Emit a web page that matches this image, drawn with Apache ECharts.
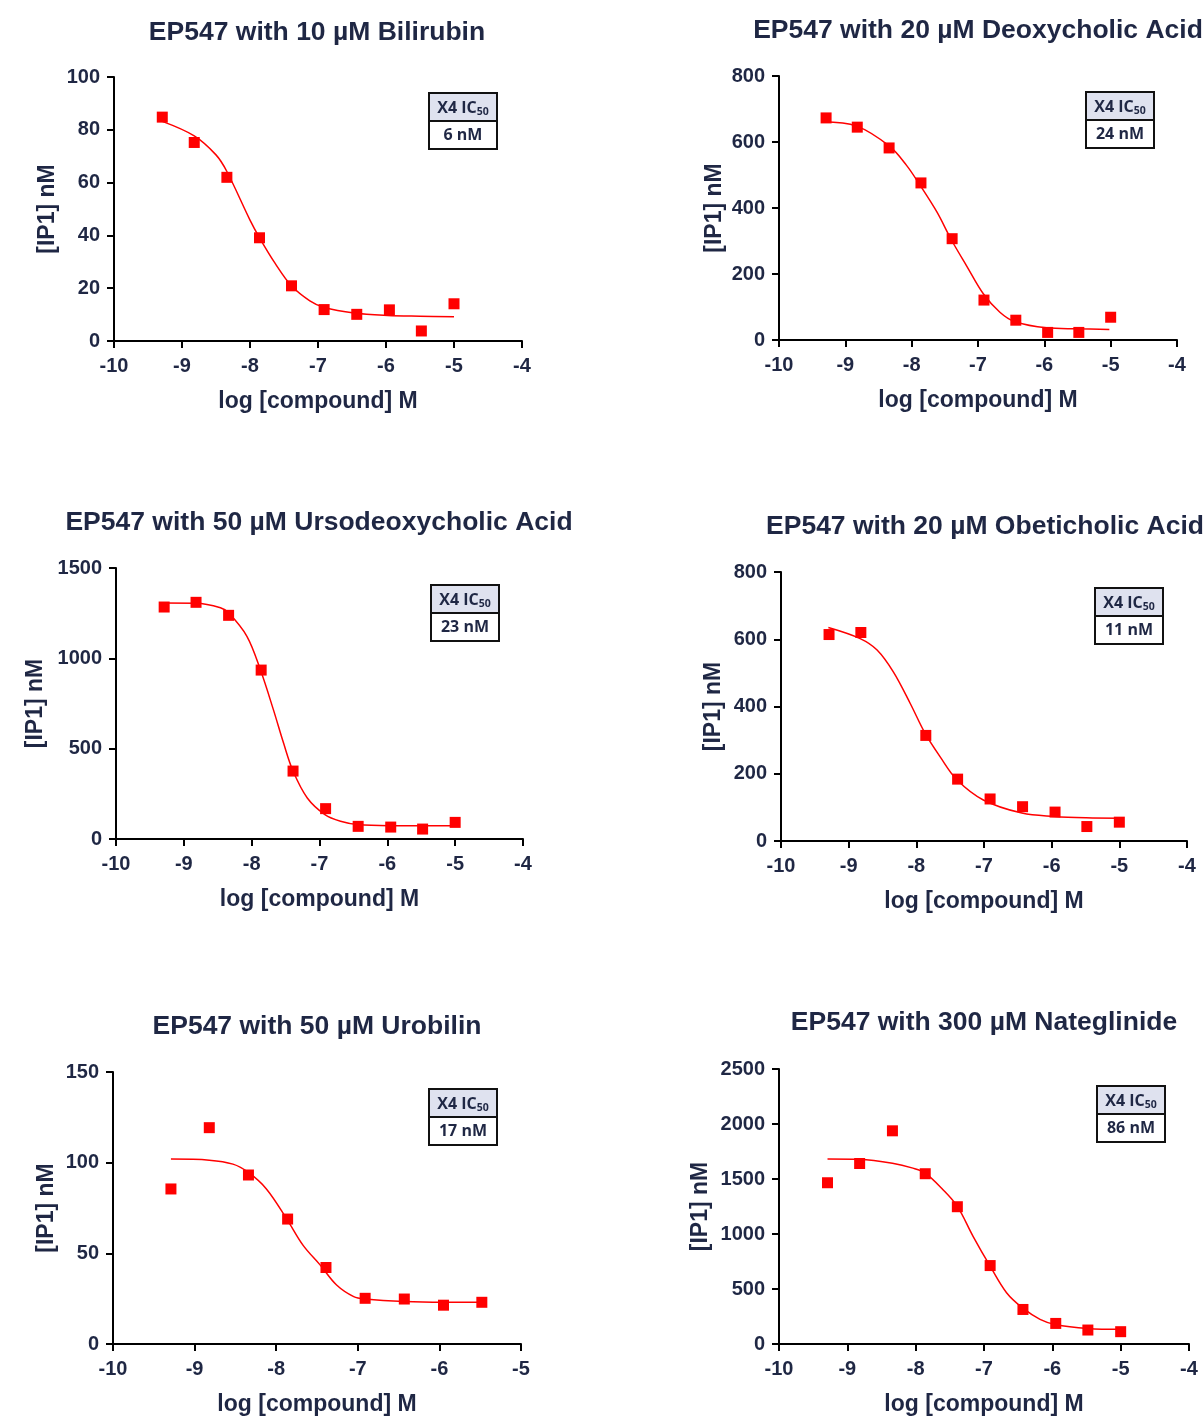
<!DOCTYPE html>
<html style="height: 100%">
    <head>
        <meta charset="utf-8">
    </head>
    <body style="height: 100%; margin: 0; background: #fff">
        <div id="container" style="width: 1203px; height: 1417px"></div>
        <script type="text/javascript" src="https://cdn.jsdelivr.net/npm/echarts@6/dist/echarts.min.js"></script>
        <script type="text/javascript">

// --- data ---
var logConc = [-9.29, -8.82, -8.34, -7.86, -7.39, -6.91, -6.43, -5.95, -5.48, -5.00];
var logConcObet = [-9.29, -8.82, -7.86, -7.39, -6.91, -6.43, -5.95, -5.48, -5.00];
var logConcUrob = [-9.29, -8.82, -8.34, -7.86, -7.39, -6.91, -6.43, -5.95, -5.48];

var bilirubinY = [84.8, 75.2, 62.0, 39.1, 20.9, 11.9, 10.1, 11.8, 3.8, 14.1];
var deoxycholicY = [673, 645, 582, 476, 307, 121, 60, 23, 23, 69];
var ursoY = [1284, 1310, 1238, 935, 376, 168, 70, 66, 55, 92];
var obeticholicY = [614, 620, 314, 184, 125, 102, 86, 43, 56];
var urobilinY = [85.5, 119.3, 93.2, 68.9, 42.2, 25.2, 24.8, 21.4, 23.0];
var nateglinideY = [1466, 1641, 1938, 1548, 1248, 713, 314, 187, 127, 112];

// fitted curves
var bilirubinFitX = [-9.29, -8.82, -8.5, -8.34, -8.0, -7.86, -7.63, -7.39, -7.12, -6.91, -6.47, -5.98, -5.5, -5.0];
var bilirubinFitY = [83.2, 77.7, 70.5, 64.2, 45.8, 39.1, 29.4, 20.9, 15.2, 12.7, 10.6, 9.7, 9.4, 9.2];
var deoxycholicFitX = [-9.34, -8.83, -8.34, -8.08, -7.88, -7.62, -7.40, -7.17, -6.92, -6.67, -6.45, -5.97, -5.50, -5.02];
var deoxycholicFitY = [661, 648, 588, 530, 471, 388, 303, 224, 140, 84, 56, 37, 34, 32];
var ursoFitX = [-9.30, -8.82, -8.46, -8.34, -8.07, -7.87, -7.68, -7.53, -7.39, -7.18, -6.92, -6.69, -6.44, -5.97, -5.49, -5.01];
var ursoFitY = [1306, 1305, 1280, 1252, 1122, 935, 716, 531, 376, 227, 135, 98, 80, 74, 74, 74];
var obeticholicFitX = [-9.30, -8.83, -8.58, -8.34, -8.09, -7.87, -7.65, -7.40, -7.01, -6.44, -5.96, -5.49, -5.01];
var obeticholicFitY = [635, 602, 568, 503, 409, 320, 251, 182, 122, 83, 73, 69, 68];
var urobilinFitX = [-9.29, -8.82, -8.53, -8.34, -8.12, -7.87, -7.67, -7.46, -7.26, -7.05, -6.91, -6.43, -5.95, -5.48];
var urobilinFitY = [102.0, 101.4, 99.2, 94.6, 85.5, 68.9, 54.4, 43.5, 32.5, 26.1, 24.8, 23.4, 23.0, 23.0];
var nateglinideFitX = [-9.29, -8.82, -8.34, -8.04, -7.86, -7.60, -7.39, -7.16, -6.91, -6.67, -6.44, -6.18, -5.96, -5.48, -5.00];
var nateglinideFitY = [1681, 1678, 1644, 1599, 1554, 1403, 1251, 979, 707, 466, 330, 224, 178, 142, 133];

var titles = [
    'EP547 with 10 \u00B5M Bilirubin',
    'EP547 with 20 \u00B5M Deoxycholic Acid',
    'EP547 with 50 \u00B5M Ursodeoxycholic Acid',
    'EP547 with 20 \u00B5M Obeticholic Acid',
    'EP547 with 50 \u00B5M Urobilin',
    'EP547 with 300 \u00B5M Nateglinide'
];
var ic50Labels = ['6 nM', '24 nM', '23 nM', '11 nM', '17 nM', '86 nM'];
var yMax = [100, 800, 1500, 800, 150, 2500];
var yStep = [20, 200, 500, 200, 50, 500];
var xMax = [-4, -4, -4, -4, -5, -4];

var pointsX = [logConc, logConc, logConc, logConcObet, logConcUrob, logConc];
var pointsY = [bilirubinY, deoxycholicY, ursoY, obeticholicY, urobilinY, nateglinideY];
var fitX = [bilirubinFitX, deoxycholicFitX, ursoFitX, obeticholicFitX, urobilinFitX, nateglinideFitX];
var fitY = [bilirubinFitY, deoxycholicFitY, ursoFitY, obeticholicFitY, urobilinFitY, nateglinideFitY];

// --- layout (pixels) ---
var grids = [
    {left: 114, top: 77, width: 408, height: 264},
    {left: 779, top: 76, width: 398, height: 264},
    {left: 116, top: 568, width: 407, height: 271},
    {left: 781, top: 572, width: 406, height: 269},
    {left: 113, top: 1072, width: 408, height: 274},
    {left: 779, top: 1069, width: 410, height: 276}
];
var yNameGap = [55, 53, 69, 56, 55, 67];
var titlePos = [[317, 33], [978, 31], [319, 523], [985, 527], [317, 1027], [984, 1023]];
var boxPos = [[429, 93], [1086, 92], [431, 585], [1095, 588], [429, 1089], [1097, 1086]];

var ink = '#1f2744';
var red = '#ff0000';

var dom = document.getElementById('container');
var myChart = echarts.init(dom);

function zip(xs, ys) {
    var out = [];
    for (var i = 0; i < xs.length; i++) out.push([xs[i], ys[i]]);
    return out;
}

var xAxes = [], yAxes = [], series = [], graphics = [];
for (var i = 0; i < 6; i++) {
    xAxes.push({
        type: 'value', gridIndex: i, min: -10, max: xMax[i], interval: 1,
        name: 'log [compound] M', nameLocation: 'middle', nameGap: 49,
        nameTextStyle: {color: ink, fontSize: 23, fontWeight: 'bold', fontFamily: 'Liberation Sans'},
        axisLine: {show: true, onZero: false, lineStyle: {color: '#000', width: 2}},
        axisTick: {show: true, length: 7, lineStyle: {color: '#000', width: 2}},
        axisLabel: {color: ink, fontSize: 20, fontWeight: 'bold', fontFamily: 'Liberation Sans', margin: 15},
        splitLine: {show: false}
    });
    yAxes.push({
        type: 'value', gridIndex: i, min: 0, max: yMax[i], interval: yStep[i],
        name: '[IP1] nM', nameLocation: 'middle', nameGap: yNameGap[i],
        nameTextStyle: {color: ink, fontSize: 23, fontWeight: 'bold', fontFamily: 'Liberation Sans'},
        axisLine: {show: true, onZero: false, lineStyle: {color: '#000', width: 2}},
        axisTick: {show: true, length: 7, lineStyle: {color: '#000', width: 2}},
        axisLabel: {color: ink, fontSize: 20, fontWeight: 'bold', fontFamily: 'Liberation Sans', margin: 14,
                    formatter: function (v) { return String(v); }},
        splitLine: {show: false}
    });
    series.push({
        type: 'line', xAxisIndex: i, yAxisIndex: i,
        data: zip(fitX[i], fitY[i]),
        smooth: 0.35, showSymbol: false, silent: true,
        lineStyle: {color: red, width: 1.5}, z: 2
    });
    series.push({
        type: 'scatter', xAxisIndex: i, yAxisIndex: i,
        data: zip(pointsX[i], pointsY[i]),
        symbol: 'rect', symbolSize: 11,
        itemStyle: {color: red, opacity: 1}, z: 3
    });

    graphics.push({
        type: 'text', x: titlePos[i][0], y: titlePos[i][1],
        style: {
            text: titles[i], fill: ink, font: 'bold 26.5px "Liberation Sans"',
            textAlign: 'center', textVerticalAlign: 'middle'
        }
    });

    var bx = boxPos[i][0], by = boxPos[i][1];
    graphics.push({
        type: 'group', x: bx, y: by,
        children: [
            {type: 'rect', shape: {x: 0, y: 0, width: 68, height: 28},
             style: {fill: '#dfe2ef', stroke: '#111', lineWidth: 2}},
            {type: 'rect', shape: {x: 0, y: 28, width: 68, height: 28},
             style: {fill: '#fff', stroke: '#111', lineWidth: 2}},
            {type: 'text', x: 34, y: 15,
             style: {
                 text: 'X4 IC{s|50}', fill: ink, align: 'center', verticalAlign: 'middle',
                 font: 'bold 16px "Open Sans"',
                 rich: {s: {fontSize: 10.5, fontWeight: 'bold', fontFamily: 'Open Sans', fill: ink, padding: [8, 0, 0, 0]}}
             }},
            {type: 'text', x: 34, y: 42,
             style: {text: ic50Labels[i], fill: ink, align: 'center', verticalAlign: 'middle',
                     font: 'bold 16px "Open Sans"'}}
        ]
    });
}

var option = {
    animation: false,
    backgroundColor: '#fff',
    grid: grids,
    xAxis: xAxes,
    yAxis: yAxes,
    series: series,
    graphic: graphics
};
myChart.setOption(option);

        </script>
    </body>
</html>
